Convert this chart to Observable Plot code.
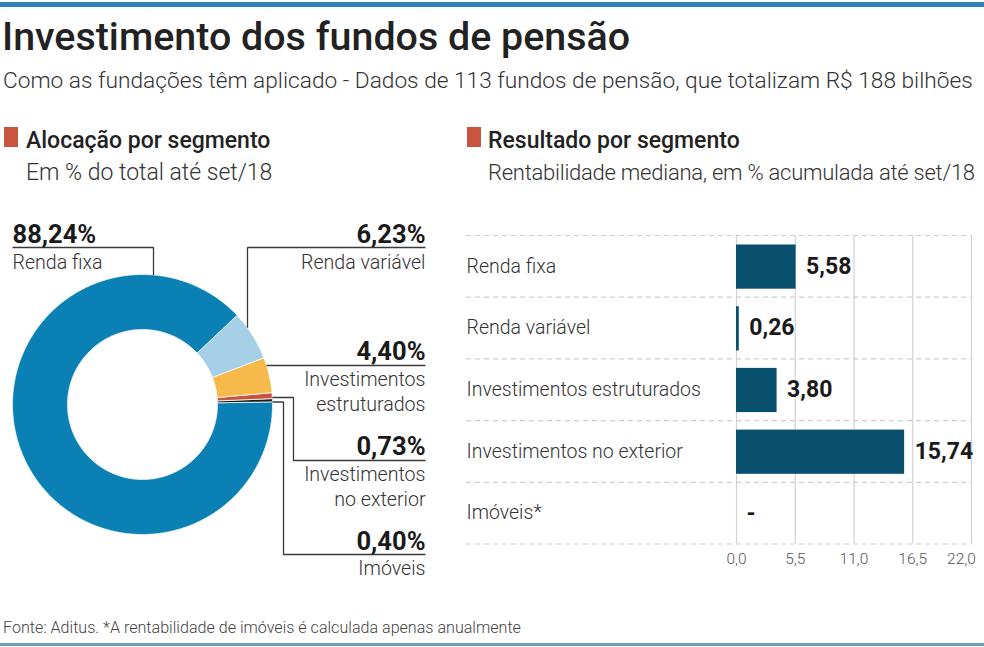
<!DOCTYPE html>
<html>
<head>
<meta charset="utf-8">
<script src="https://cdn.jsdelivr.net/npm/d3@7"></script>
<script src="https://cdn.jsdelivr.net/npm/@observablehq/plot@0.6"></script>
<style>
  html, body { margin: 0; padding: 0; background: #fff; }
  #root { position: relative; width: 984px; height: 647px; overflow: hidden; font-family: Roboto, "Noto Sans", sans-serif; color: #222; }
  .t { position: absolute; white-space: nowrap; line-height: 1; }
  .bar-top { position: absolute; left: 0; top: 2px; width: 984px; height: 5px; background: #2a83b4; }
  .bar-bottom { position: absolute; left: 0; top: 643px; width: 984px; height: 3px; background: #6a9fba; }
  .sq { position: absolute; width: 14px; height: 20px; background: #c9553e; top: 127px; }
  .panel { position: absolute; }
  .panel svg { overflow: visible; font-family: Roboto, "Noto Sans", sans-serif; }
</style>
</head>
<body>
<div id="root">
  <div class="bar-top"></div>
  <div class="t" id="title" style="left:2px; top:17px; font-size:39.4px; font-weight:500; color:#222;"></div>
  <div class="t" id="subtitle" style="left:3px; top:70px; font-size:22.7px; font-weight:300; color:#333;"></div>
  <div class="sq" style="left:4px;"></div>
  <div class="t" id="h1" style="left:26px; top:128.8px; font-size:23px; font-weight:500; color:#222;"></div>
  <div class="t" id="s1" style="left:26px; top:160.8px; font-size:23px; font-weight:300; color:#333;"></div>
  <div class="sq" style="left:467px;"></div>
  <div class="t" id="h2" style="left:488px; top:128.8px; font-size:23px; font-weight:500; color:#222;"></div>
  <div class="t" id="s2" style="left:488px; top:161.5px; font-size:22px; font-weight:300; letter-spacing:-0.25px; color:#333;"></div>
  <div class="panel" id="donut" style="left:0px; top:185px;"></div>
  <div class="panel" id="bars" style="left:450px; top:225px;"></div>
  <div class="t" id="footer" style="left:3px; top:619.5px; font-size:16.1px; font-weight:300; color:#444;"></div>
  <div class="bar-bottom"></div>
</div>
<script>
// ---------------- texts ----------------
const titleText = "Investimento dos fundos de pensão";
const subtitleText = "Como as fundações têm aplicado - Dados de 113 fundos de pensão, que totalizam R$ 188 bilhões";
const leftHeading = "Alocação por segmento";
const leftSub = "Em % do total até set/18";
const rightHeading = "Resultado por segmento";
const rightSub = "Rentabilidade mediana, em % acumulada até set/18";
const footerText = "Fonte: Aditus. *A rentabilidade de imóveis é calculada apenas anualmente";

// ---------------- data: allocation (donut) ----------------
const allocSegments = ["Renda fixa", "Renda variável", "Investimentos estruturados", "Investimentos no exterior", "Imóveis"];
const allocLabelLines = [["Renda fixa"], ["Renda variável"], ["Investimentos", "estruturados"], ["Investimentos", "no exterior"], ["Imóveis"]];
const allocShares = [88.24, 6.23, 4.40, 0.73, 0.40];
const allocDrawOrder = [1, 2, 3, 4, 0]; // clockwise order of the slices

// ---------------- data: results (bars) ----------------
const resultSegments = ["Renda fixa", "Renda variável", "Investimentos estruturados", "Investimentos no exterior", "Imóveis*"];
const resultValues = [5.58, 0.26, 3.80, 15.74, null];
const resultTicks = [0, 5.5, 11, 16.5, 22];

// ---------------- styles ----------------
const sliceColors = ["#0a80b4", "#a6d0e6", "#f7b94b", "#c9553e", "#1c1c1c"];
const barColor = "#094f6e";

const locale = d3.formatLocale({decimal: ",", thousands: ".", grouping: [3], currency: ["R$ ", ""]});
const fmt2 = locale.format(".2f");
const fmt1 = locale.format(".1f");

document.getElementById("title").textContent = titleText;
document.getElementById("subtitle").textContent = subtitleText;
document.getElementById("h1").textContent = leftHeading;
document.getElementById("s1").textContent = leftSub;
document.getElementById("h2").textContent = rightHeading;
document.getElementById("s2").textContent = rightSub;
document.getElementById("footer").textContent = footerText;

// ================= DONUT =================
const DW = 450, DH = 420;
const CX = 142, CY = 219, R_OUT = 130, R_IN = 75;
const START = 46.7 * Math.PI / 180;

const pie = d3.pie().sort(null).value(i => allocShares[i]).startAngle(START).endAngle(START + 2 * Math.PI);
const arcs = pie(allocDrawOrder);
const polar = (r, a) => ({x: CX + r * Math.sin(a), y: CY - r * Math.cos(a)});

const slicePolys = arcs.map(a => {
  const n = Math.max(6, Math.ceil((a.endAngle - a.startAngle) / 0.004));
  const pts = [];
  for (let k = 0; k <= n; k++) pts.push(polar(R_OUT, a.startAngle + (a.endAngle - a.startAngle) * k / n));
  for (let k = n; k >= 0; k--) pts.push(polar(R_IN, a.startAngle + (a.endAngle - a.startAngle) * k / n));
  return {seg: a.data, pts};
});

// label layout (svg pixel coordinates)
const labelLayout = [
  {side: "left",  tx: 12,  pctY: 57,  lineYs: [83],       leader: {type: "v", at: 153, elbowY: 62, endX: 12}},
  {side: "right", tx: 425, pctY: 57,  lineYs: [83],       leader: {type: "v", at: 247, elbowY: 62, endX: 425}},
  {side: "right", tx: 425, pctY: 174, lineYs: [200, 225], leader: {type: "h", at: 180, endX: 425}},
  {side: "right", tx: 425, pctY: 269, lineYs: [295, 320], leader: {type: "h", at: 212, elbowX: 293, elbowY: 275, endX: 425}},
  {side: "right", tx: 425, pctY: 364, lineYs: [389],      leader: {type: "h", at: 216.5, elbowX: 283, elbowY: 369, endX: 425}}
];

const leaderPts = [];
labelLayout.forEach((L, i) => {
  const ld = L.leader;
  let path;
  if (ld.type === "v") {
    const y0 = CY - Math.sqrt(R_OUT * R_OUT - (ld.at - CX) ** 2);
    path = [[ld.at, y0], [ld.at, ld.elbowY], [ld.endX, ld.elbowY]];
  } else {
    const x0 = CX + Math.sqrt(R_OUT * R_OUT - (ld.at - CY) ** 2);
    if (ld.elbowX != null) path = [[x0, ld.at], [ld.elbowX, ld.at], [ld.elbowX, ld.elbowY], [ld.endX, ld.elbowY]];
    else path = [[x0, ld.at], [ld.endX, ld.at]];
  }
  path.forEach(([x, y]) => leaderPts.push({seg: i, x, y}));
});

const pctLabels = allocSegments.map((s, i) => ({seg: i, side: labelLayout[i].side, x: labelLayout[i].tx, y: labelLayout[i].pctY, text: fmt2(allocShares[i]) + "%"}));
const nameLabels = [];
allocLabelLines.forEach((lines, i) => lines.forEach((ln, j) => nameLabels.push({seg: i, side: labelLayout[i].side, x: labelLayout[i].tx, y: labelLayout[i].lineYs[j], text: ln})));

const donutMarks = [];
slicePolys.forEach(p => {
  donutMarks.push(Plot.line(p.pts, {x: "x", y: "y", fill: sliceColors[p.seg], stroke: "#ffffff", strokeWidth: 0.8, strokeLinejoin: "miter", curve: "linear-closed"}));
});
donutMarks.push(Plot.line(leaderPts, {x: "x", y: "y", z: "seg", stroke: "#3a3a3a", strokeWidth: 1.3, strokeLinejoin: "miter", strokeLinecap: "butt"}));
["left", "right"].forEach(side => {
  const anchor = side === "left" ? "start" : "end";
  donutMarks.push(Plot.text(pctLabels.filter(d => d.side === side), {x: "x", y: "y", text: "text", textAnchor: anchor, lineAnchor: "bottom", fontSize: 25.5, fontWeight: 700, fill: "#1a1a1a"}));
  donutMarks.push(Plot.text(nameLabels.filter(d => d.side === side), {x: "x", y: "y", text: "text", textAnchor: anchor, lineAnchor: "bottom", fontSize: 19.6, fontWeight: 300, fill: "#333"}));
});

const donutPlot = Plot.plot({
  width: DW, height: DH,
  margin: 0,
  x: {domain: [0, DW], range: [0, DW], axis: null},
  y: {domain: [0, DH], range: [0, DH], axis: null},
  style: {background: "transparent", overflow: "visible"},
  marks: donutMarks
});
document.getElementById("donut").appendChild(donutPlot);

// ================= BARS =================
const BW = 534, BH = 350;
const mL = 286, mR = 13, mT = 10, mB = 31.5;
const rows = resultSegments.map((s, i) => ({seg: s, value: resultValues[i], i}));

const barPlot = Plot.plot({
  width: BW, height: BH,
  marginLeft: mL, marginRight: mR, marginTop: mT, marginBottom: mB,
  x: {domain: [0, 22], range: [mL, BW - mR], axis: null},
  y: {domain: [0, rows.length], range: [mT, BH - mB], axis: null},
  style: {background: "transparent", overflow: "visible"},
  marks: [
    Plot.ruleX(resultTicks, {x: d => d, stroke: "#d2d2d2", strokeWidth: 1.2}),
    Plot.ruleY(d3.range(rows.length + 1), {y: d => d, stroke: "#cdcdcd", strokeWidth: 1.2, strokeDasharray: "5,4", insetLeft: -(mL - 16)}),
    Plot.rect(rows.filter(d => d.value != null), {x1: 0, x2: "value", y1: "i", y2: d => d.i + 1, insetTop: 9.5, insetBottom: 8, fill: barColor}),
    Plot.text(rows, {x: d => d.value ?? 0, y: d => d.i + 0.5, text: d => d.value == null ? "-" : fmt2(d.value), textAnchor: "start", dx: 10, fontSize: 23, fontWeight: 700, fill: "#1a1a1a"}),
    Plot.text(rows, {y: d => d.i + 0.5, text: "seg", frameAnchor: "left", textAnchor: "start", dx: -(mL - 16), fontSize: 19.5, fontWeight: 300, fill: "#333"}),
    Plot.text(resultTicks.slice(0, -1), {x: d => d, text: d => fmt1(d), frameAnchor: "bottom", lineAnchor: "bottom", dy: 19.5, fontSize: 15.5, fontWeight: 300, fill: "#555"}),
    Plot.text(resultTicks.slice(-1), {x: d => d, text: d => fmt1(d), frameAnchor: "bottom", lineAnchor: "bottom", dy: 19.5, dx: -10, fontSize: 15.5, fontWeight: 300, fill: "#555"})
  ]
});
document.getElementById("bars").appendChild(barPlot);
</script>
</body>
</html>
